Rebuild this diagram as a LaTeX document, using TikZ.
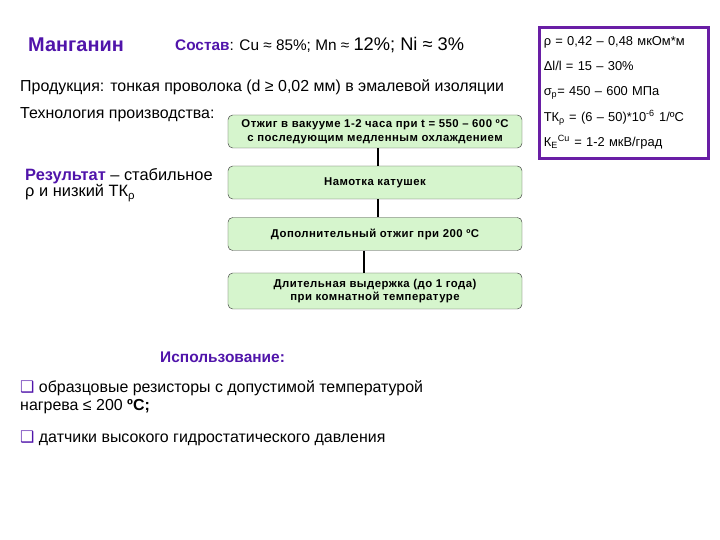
\documentclass[tikz,border=0pt]{standalone}
\usepackage{fontspec}
\setmainfont{Liberation Sans}
\newfontfamily\boxfont{Liberation Sans}[LetterSpace=4]
\newfontfamily\symfont{DejaVu Sans}
\usepackage{xcolor}
\definecolor{mlindigo}{RGB}{80,20,170}
\definecolor{mlframe}{RGB}{105,30,165}
\definecolor{mlmint}{RGB}{214,245,205}
\usetikzlibrary{positioning}

\begin{document}
\begin{tikzpicture}[x=0.03cm,y=-0.03cm,
  stepbox/.style={draw=black!75,fill=mlmint,rounded corners=4pt,minimum width=8.82cm,
    minimum height=0.99cm,align=center,inner sep=1pt,font=\boxfont\fontsize{9.7}{11.5}\selectfont\bfseries},
  txt/.style={anchor=west,inner sep=0pt,font=\fontsize{13.6}{16}\selectfont},
  head/.style={txt,text=mlindigo,font=\fontsize{13.2}{15}\selectfont\bfseries},
  link/.style={line width=1.6pt}]
  \useasboundingbox (0,0) rectangle (720,540);
  % Title and composition
  \node[head,font=\fontsize{17}{19}\selectfont\bfseries] (title) at (28,45) {Манганин};
  \node[txt,font=\fontsize{13.1}{15}\selectfont] (comp) at (175,45)
    {{\bfseries\color{mlindigo}Состав}: Cu ≈ 85\%; Mn ≈ {\fontsize{15.6}{17}\selectfont 12\%; Ni ≈ 3\%}};
  \node[txt] (prod) at (20,87) {Продукция: тонкая проволока (d ≥ 0,02 мм) в эмалевой изоляции};
  \node[txt] (tech) at (20,115) {Технология производства:};
  % Process steps
  \node[stepbox] (b1) at (375,131.5) {Отжиг в вакууме 1-2 часа при t = 550 – 600 ºC\\с последующим медленным охлаждением};
  \node[stepbox] (b2) at (375,182.5) {Намотка катушек};
  \node[stepbox] (b3) at (375,234) {Дополнительный отжиг при 200 ºC};
  \node[stepbox,minimum height=1.08cm] (b4) at (375,291) {Длительная выдержка (до 1 года)\\при комнатной температуре};
  \draw[link] ([xshift=0.09cm]b1.south) -- ([xshift=0.09cm]b2.north);
  \draw[link] ([xshift=0.09cm]b2.south) -- ([xshift=0.09cm]b3.north);
  \draw[link] ([xshift=-0.33cm]b3.south) -- ([xshift=-0.33cm]b4.north);
  % Result
  \node[txt,font=\fontsize{14}{16}\selectfont] (res1) at (25,176)
    {{\bfseries\color{mlindigo}Результат} – стабильное};
  \node[txt,font=\fontsize{14}{16}\selectfont] (res2) at (25,193) {ρ и низкий ТК\textsubscript{ρ}};
  % Properties
  \node[draw=mlframe,line width=2.2pt,anchor=north west,minimum width=5.07cm,minimum height=3.93cm,
    inner xsep=3pt,text width=4.8cm,align=left,font=\fontsize{11}{21.5}\selectfont] (props) at (538,26)
    {ρ = 0,42 – 0,48 мкОм*м\\
     Δl/l = 15 – 30\%\\
     σ\textsubscript{р}= 450 – 600 МПа\\
     ТК\textsubscript{ρ} = (6 – 50)*10\textsuperscript{-6} 1/ºC\\
     К\textsubscript{Е}\textsuperscript{Cu} = 1-2 мкВ/град};
  % Usage
  \node[head] (use) at (160,357) {Использование:};
  \node[txt] (use1) at (20,388)
    {{\symfont\color{mlindigo}❑} образцовые резисторы с допустимой температурой};
  \node[txt] (use1b) at (20,407) {нагрева ≤ 200 {\bfseries ºC;}};
  \node[txt] (use2) at (20,438) {{\symfont\color{mlindigo}❑} датчики высокого гидростатического давления};
\end{tikzpicture}
\end{document}
